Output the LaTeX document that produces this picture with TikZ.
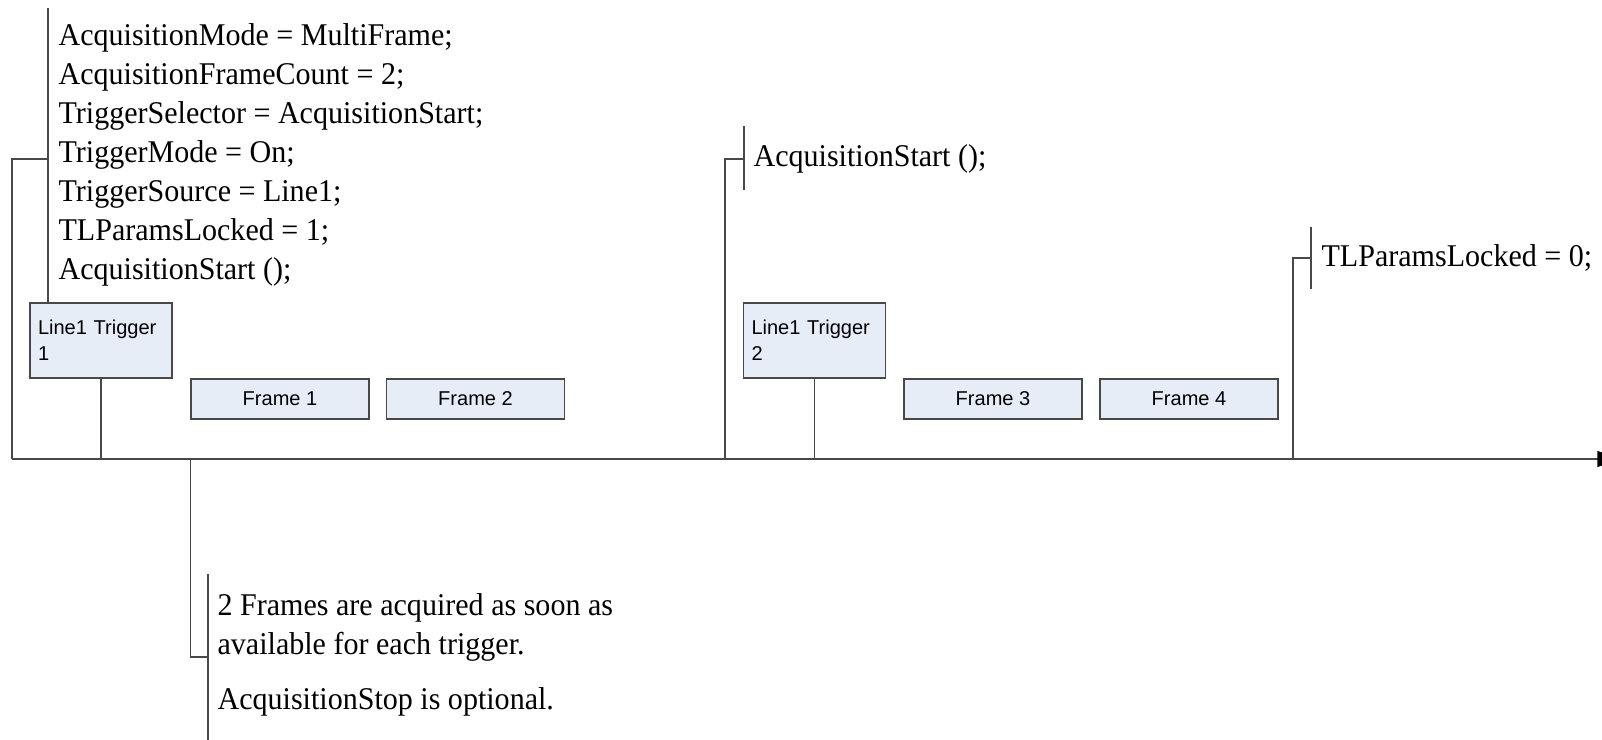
\documentclass[tikz,border=0pt]{standalone}
\usepackage{fontspec}
\setmainfont{Liberation Serif}
\setsansfont{Liberation Sans}
\newfontfamily\notefont[FakeStretch=0.95]{Liberation Serif}
\usetikzlibrary{
    positioning,
    arrows.meta,
    calc
}
\definecolor{BoxFill}{RGB}{231,237,247}
\definecolor{LineGray}{RGB}{72,72,72}

\begin{document}
\begin{tikzpicture}[
            x=0.02cm, y=-0.02cm,
            >=Stealth,
            line width=0.7pt,
            note/.style={anchor=north west, align=left, inner sep=0pt, font=\notefont\fontsize{18}{22.2}\selectfont},
            trigbox/.style={rectangle, draw=LineGray, fill=BoxFill, minimum width=2.84cm, minimum height=1.5cm, text width=2.52cm, inner xsep=0.16cm, align=left, font=\sffamily\fontsize{11.4}{15}\selectfont},
            framebox/.style={rectangle, draw=LineGray, fill=BoxFill, minimum width=3.56cm, minimum height=0.8cm, font=\sffamily\fontsize{11.4}{15}\selectfont},
            wire/.style={draw=LineGray},
        ]
        \useasboundingbox (0,0) rectangle (1602,740);

        % ===== TIME AXIS =====
        \coordinate (t0) at (12,459);
        \coordinate (t1) at (1622,459);
        \draw[wire, -{Triangle[length=14pt, width=9pt, black]}] (t0) -- (t1);

        % ===== SETUP NOTE =====
        \node[note] (setup) at (58,23) {AcquisitionMode = MultiFrame;\\AcquisitionFrameCount = 2;\\TriggerSelector = AcquisitionStart;\\TriggerMode = On;\\TriggerSource = Line1;\\TLParamsLocked = 1;\\AcquisitionStart ();};
        \coordinate (s0) at (12,159);
        \coordinate (s1) at (48,159);
        \coordinate (s2) at (48,8);

        % ===== TRIGGER 1 =====
        \node[trigbox] (trig1) at (101,340.5) {Line1 Trigger\\1};
        \node[framebox] (fr1) at (280,399) {Frame 1};
        \node[framebox] (fr2) at (475.5,399) {Frame 2};

        \draw[wire] (t0) -- (s0) -- (s1);
        \draw[wire] (s2) -- (s2 |- trig1.north);
        \draw[wire] (trig1.south) -- (trig1.south |- t0);

        % ===== RESTART NOTE =====
        \node[note, anchor=west] (restart) at (753,159) {AcquisitionStart ();};
        \coordinate (r0) at (725,459);
        \coordinate (r1) at (744,159);
        \draw[wire] (r0) |- (r1);
        \draw[wire] (744,126) -- (744,190);

        % ===== TRIGGER 2 =====
        \node[trigbox] (trig2) at (814.5,340.5) {Line1 Trigger\\2};
        \node[framebox] (fr3) at (993,399) {Frame 3};
        \node[framebox] (fr4) at (1189,399) {Frame 4};
        \draw[wire] (trig2.south) -- (trig2.south |- t0);

        % ===== UNLOCK NOTE =====
        \node[note, anchor=west] (unlock) at (1321,258) {TLParamsLocked = 0;};
        \coordinate (u0) at (1293,459);
        \coordinate (u1) at (1311,258);
        \draw[wire] (u0) |- (u1);
        \draw[wire] (1311,227) -- (1311,289);

        % ===== FRAMES NOTE =====
        \node[note] (frnote) at (217,593) {2 Frames are acquired as soon as\\available for each trigger.\\[9pt]AcquisitionStop is optional.};
        \coordinate (f0) at (fr1.west |- t0);
        \coordinate (f1) at (208,657);
        \draw[wire] (f0) |- (f1);
        \draw[wire] (208,574) -- (208,745);
        \end{tikzpicture}
\end{document}
